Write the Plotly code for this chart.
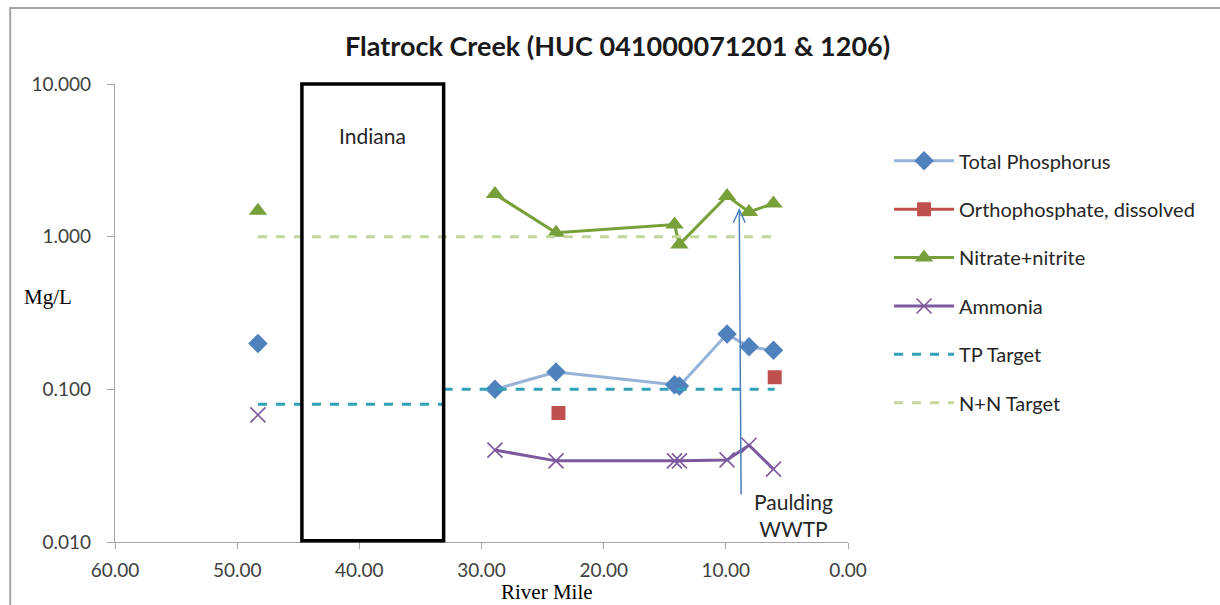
import plotly.graph_objects as go
import math

# River-mile sample locations and concentrations (mg/L); None breaks the line
tp_mile = [48.3, 40.0, 28.9, 23.9, 14.2, 13.8, 9.9, 8.1, 6.1]
tp_val = [0.20, None, 0.100, 0.130, 0.107, 0.105, 0.230, 0.190, 0.180]

op_mile = [23.7, 14.0, 6.0]
op_val = [0.070, None, 0.120]

nn_mile = [48.3, 40.0, 28.9, 23.9, 14.2, 13.8, 9.9, 8.1, 6.1]
nn_val = [1.48, None, 1.90, 1.06, 1.20, 0.89, 1.85, 1.45, 1.65]

nh3_mile = [48.3, 40.0, 28.9, 23.9, 14.2, 13.8, 9.9, 8.1, 6.1]
nh3_val = [0.068, None, 0.040, 0.034, 0.034, 0.034, 0.0345, 0.043, 0.030]

tp_target_mile = [48.3, 33.1, None, 33.1, 6.0]
tp_target_val = [0.08, 0.08, None, 0.10, 0.10]

nn_target_mile = [48.3, 6.0]
nn_target_val = [1.0, 1.0]

y_tickvals = [0.01, 0.1, 1, 10]
y_ticktext = ["0.010", "0.100", "1.000", "10.000"]
x_tickvals = [60, 50, 40, 30, 20, 10, 0]
x_ticktext = ["60.00", "50.00", "40.00", "30.00", "20.00", "10.00", "0.00"]

# Indiana segment and Paulding WWTP discharge location
indiana_from, indiana_to = 44.7, 33.1
wwtp_mile_top, wwtp_mile_bottom = 8.9, 8.75
wwtp_top, wwtp_bottom = 1.5, 0.0205

FONT = "Lato"
TXT = "#404040"

fig = go.Figure()

fig.add_trace(go.Scatter(
    x=tp_mile, y=tp_val, name="Total Phosphorus", mode="lines+markers",
    line=dict(color="#95B3D7", width=3),
    marker=dict(symbol="diamond", size=15, color="#4F81BD"),
    legendgroup="a"))
fig.add_trace(go.Scatter(
    x=op_mile, y=op_val, name="Orthophosphate, dissolved", mode="lines+markers",
    line=dict(color="#C0504D", width=3),
    marker=dict(symbol="square", size=14, color="#C0504D"),
    legendgroup="b"))
fig.add_trace(go.Scatter(
    x=nn_mile, y=nn_val, name="Nitrate+nitrite", mode="lines+markers",
    line=dict(color="#77A03A", width=3),
    marker=dict(symbol="triangle-up", size=16, color="#77A03A"),
    legendgroup="c"))
fig.add_trace(go.Scatter(
    x=nh3_mile, y=nh3_val, name="Ammonia", mode="lines+markers",
    line=dict(color="#7D5A9F", width=3),
    marker=dict(symbol="x-thin", size=15, color="#7D5A9F",
                line=dict(color="#7D5A9F", width=1.6)),
    legendgroup="d"))
fig.add_trace(go.Scatter(
    x=tp_target_mile, y=tp_target_val, name="TP Target", mode="lines",
    line=dict(color="#31A0B8", width=3, dash="dash"),
    connectgaps=False, legendgroup="e"))
fig.add_trace(go.Scatter(
    x=nn_target_mile, y=nn_target_val, name="N+N Target", mode="lines",
    line=dict(color="#C3D69B", width=3, dash="dash"),
    legendgroup="f"))

shapes = [
    # outer chart frame
    dict(type="rect", xref="paper", yref="paper", x0=-0.143, x1=1.52,
         y0=-0.2, y1=1.166, line=dict(color="#A6A6A6", width=2), layer="below"),
    # Indiana box
    dict(type="rect", xref="x", yref="paper", x0=indiana_from, x1=indiana_to,
         y0=0.003, y1=1.0, line=dict(color="black", width=3.5),
         fillcolor="rgba(255,255,255,0)"),
    # WWTP arrow shaft
    dict(type="line", xref="x", yref="y", x0=wwtp_mile_bottom, y0=wwtp_bottom,
         x1=wwtp_mile_top, y1=wwtp_top, line=dict(color="#4A7EBB", width=1.5)),
    # open arrowhead
    dict(type="path", xref="x", yref="y", xsizemode="pixel", ysizemode="pixel",
         xanchor=wwtp_mile_top, yanchor=wwtp_top,
         path="M -6,-13 L 0,0 L 6,-13", line=dict(color="#4A7EBB", width=1.5)),
]

annotations = [
    dict(text="Flatrock Creek (HUC 041000071201 & 1206)", xref="paper", yref="paper",
         x=0.686, y=1.085, showarrow=False, xanchor="center", yanchor="middle",
         font=dict(family=FONT, size=27, color="#1a1a1a", weight="bold")),
    dict(text="Indiana", xref="x", yref="paper", x=(indiana_from + indiana_to) / 2,
         y=0.888, showarrow=False, xanchor="center", yanchor="middle",
         font=dict(family=FONT, size=21, color="#262626")),
    dict(text="Paulding<br>WWTP", xref="x", yref="y", x=4.5, y=-1.82,
         showarrow=False, align="center", xanchor="center", yanchor="middle",
         font=dict(family=FONT, size=21, color="#262626")),
    dict(text="Mg/L", xref="paper", yref="paper", x=-0.0914, y=0.535, showarrow=False,
         xanchor="center", yanchor="middle",
         font=dict(family="Liberation Serif", size=21, color="black")),
    dict(text="River Mile", xref="paper", yref="paper", x=0.59, y=-0.109,
         showarrow=False, xanchor="center", yanchor="middle",
         font=dict(family="Liberation Serif", size=21, color="black")),
]

fig.update_layout(
    width=1220, height=605,
    margin=dict(l=115, r=372, t=84, b=63),
    paper_bgcolor="white", plot_bgcolor="white",
    showlegend=True,
    legend=dict(x=1.056, y=0.875, xanchor="left", yanchor="top",
                font=dict(family=FONT, size=20, color="#262626"),
                tracegroupgap=19.4, itemwidth=60, bgcolor="rgba(0,0,0,0)"),
    shapes=shapes, annotations=annotations,
)
fig.update_xaxes(range=[60, 0], autorange=False, tickvals=x_tickvals, ticktext=x_ticktext,
                 showgrid=False, zeroline=False, showline=True, linecolor="#A6A6A6",
                 linewidth=1.3, ticks="outside", ticklen=6, tickcolor="#A6A6A6",
                 ticklabelstandoff=5,
                 tickfont=dict(family=FONT, size=19, color=TXT))
fig.update_yaxes(type="log", range=[-2, 1], autorange=False, tickvals=y_tickvals,
                 ticktext=y_ticktext, showgrid=False, zeroline=False, showline=True,
                 linecolor="#A6A6A6", linewidth=1.3, ticks="outside", ticklen=7,
                 tickcolor="#A6A6A6", ticklabelstandoff=12,
                 tickfont=dict(family=FONT, size=19, color=TXT))

fig.write_html("out.html")
